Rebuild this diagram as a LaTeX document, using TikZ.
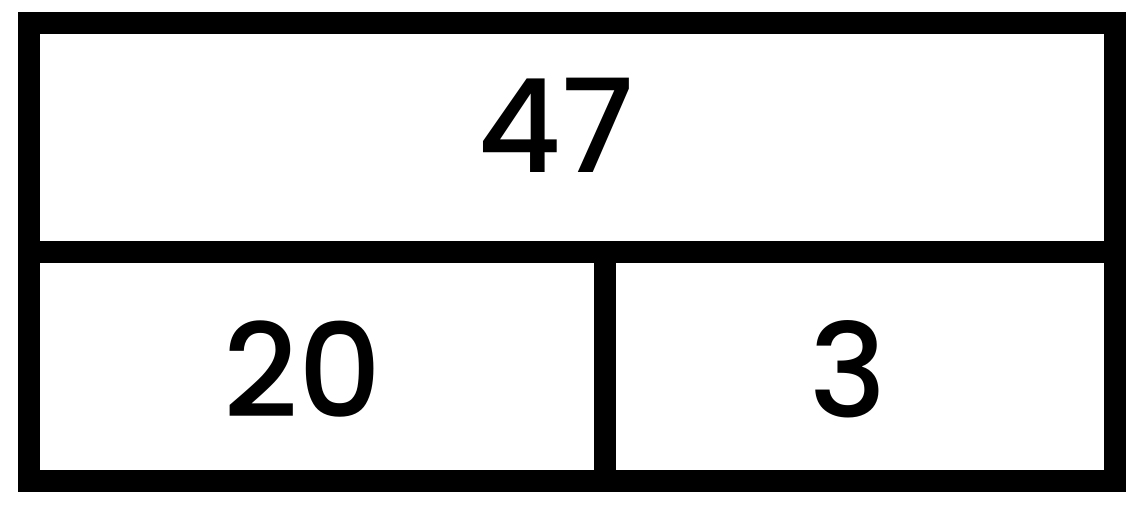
\documentclass[tikz,border=0pt]{standalone}
\usepackage{fontspec}
\setmainfont{Poppins}
\newfontfamily\numfont{Poppins Medium}
\begin{document}
\begin{tikzpicture}[x=1pt, y=-1pt,
    bar/.style={line width=22pt, line cap=rect},
    num/.style={anchor=base, inner sep=0pt, font=\numfont\fontsize{130}{130}\selectfont}]

    \useasboundingbox (0, 0) rectangle (1147, 504);

    % Define coordinates
    % corners of the outer frame
    \coordinate (TL) at (28.5, 23);
    \coordinate (TR) at (1115, 23);
    \coordinate (BL) at (28.5, 480.5);
    \coordinate (BR) at (1115, 480.5);

    % ends of the middle line
    \coordinate (ML) at (28.5, 252);
    \coordinate (MR) at (1115, 252);

    % ends of the divider in the lower row
    \coordinate (DT) at (604.5, 252);
    \coordinate (DB) at (604.5, 480.5);

    % Draw the outer frame
    \draw[bar] (TL) -- (TR) -- (BR) -- (BL) -- cycle;

    % Draw the middle line and the divider
    \draw[bar] (ML) -- (MR);
    \draw[bar] (DT) -- (DB);

    % Add the numbers
    \node[num] (whole) at (556, 172) {47};
    \node[num] (tens) at (302.5, 417) {20};
    \node[num] (ones) at (848, 417) {3};

\end{tikzpicture}
\end{document}
